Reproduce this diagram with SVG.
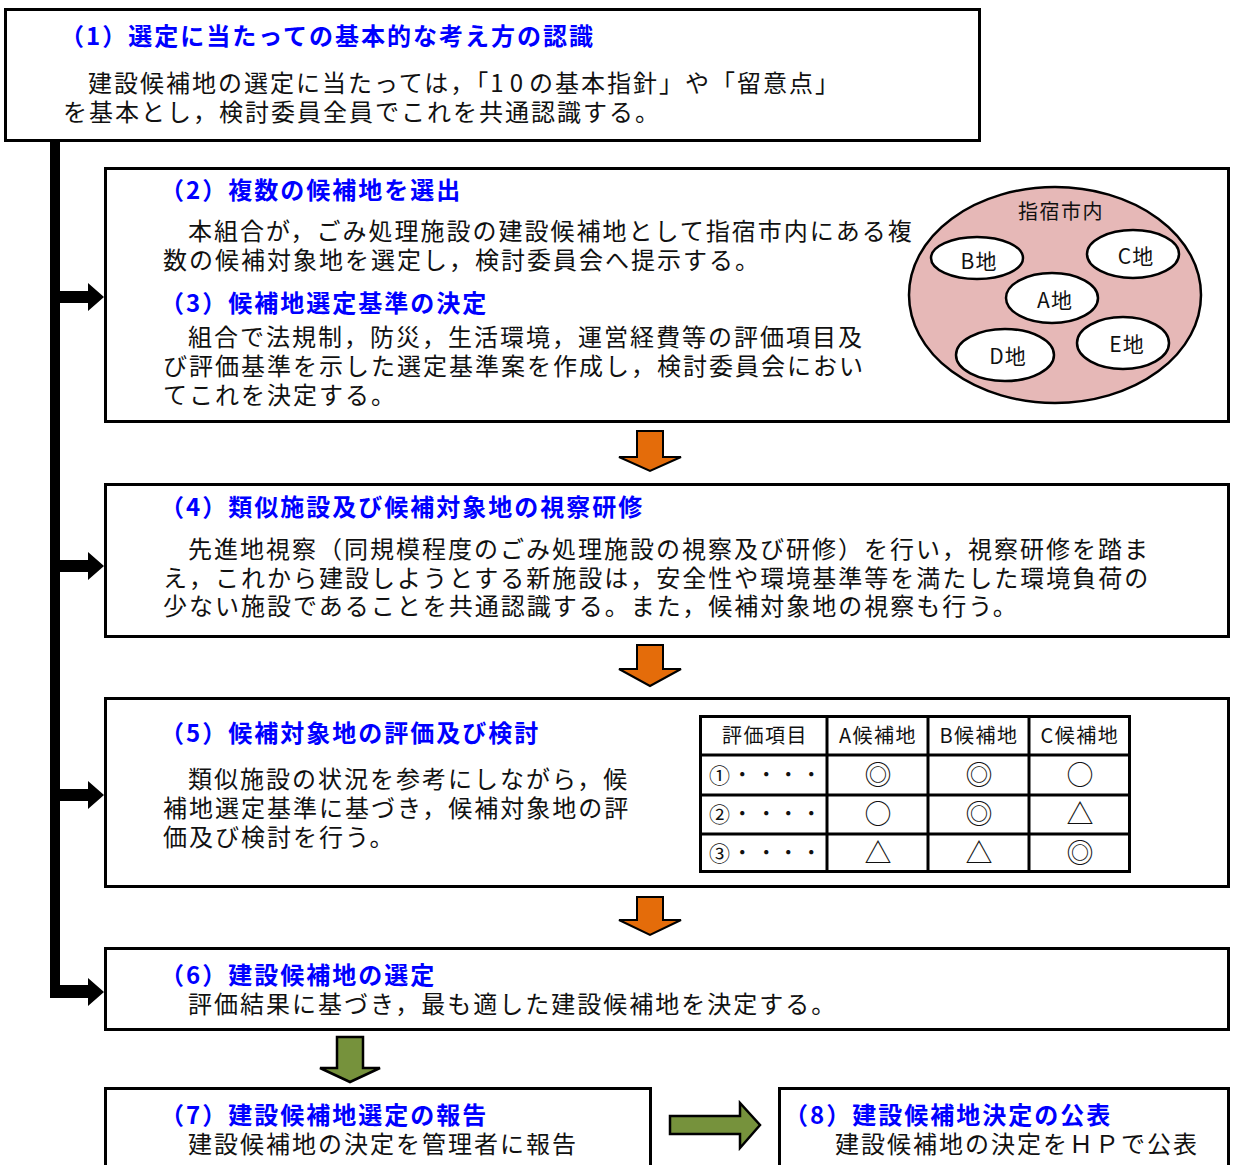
<svg xmlns="http://www.w3.org/2000/svg" width="1235" height="1165" viewBox="0 0 1235 1165">
<style>
.box{fill:#fff;stroke:#000;stroke-width:3}
.t{font-family:"Noto Sans CJK JP","Noto Sans",sans-serif;font-size:24px;font-weight:bold;fill:#0000ff;letter-spacing:2px}
.b{font-family:"Noto Sans CJK JP","Noto Sans",sans-serif;font-size:24px;fill:#111;letter-spacing:2px}
.s{font-family:"Noto Sans CJK JP","Noto Sans",sans-serif;font-size:20px;fill:#111;letter-spacing:1.5px;text-anchor:middle}
.e{font-family:"Noto Sans CJK JP","Noto Sans",sans-serif;font-size:21px;fill:#111;letter-spacing:1px;text-anchor:middle}
.sym{font-family:"Noto Sans CJK JP","DejaVu Sans",sans-serif;font-size:27px;fill:#111;text-anchor:middle}
.ell{fill:#fff;stroke:#000;stroke-width:2.5}
.cell{fill:none;stroke:#000;stroke-width:3}
.or{fill:#e46c0a;stroke:#000;stroke-width:2}
.gr{fill:#76923c;stroke:#000;stroke-width:2.5}
</style>
<rect width="1235" height="1165" fill="#fff"/>

<g id="connectors">
  <rect x="50" y="141" width="10" height="857" fill="#000"/>
  <polygon points="60,291 88,291 88,283 104,297 88,311 88,303 60,303" fill="#000"/>
  <polygon points="60,560 88,560 88,552 104,566 88,580 88,572 60,572" fill="#000"/>
  <polygon points="60,789 88,789 88,781 104,795 88,809 88,801 60,801" fill="#000"/>
  <polygon points="50,985 88,985 88,978 104,992 88,1006 88,998 50,998" fill="#000"/>
  <polygon class="or" points="637,431 663,431 663,457 681,457 650,471 619,457 637,457"/>
  <polygon class="or" points="637,645 663,645 663,669 681,669 650,686 619,669 637,669"/>
  <polygon class="or" points="637,897 663,897 663,920 681,920 650,935 619,920 637,920"/>
  <polygon class="gr" points="337,1037 363,1037 363,1068 380,1068 350,1082 320,1068 337,1068"/>
  <polygon class="gr" points="670,1116 740,1116 740,1103 760,1125 740,1148 740,1134 670,1134"/>
</g>

<g id="node1">
  <rect class="box" x="5.5" y="9.5" width="974" height="131"/>
  <text class="t" x="60" y="45">（1）選定に当たっての基本的な考え方の認識</text>
  <text class="b"><tspan x="88" y="92">建設候補地の選定に当たっては，「<tspan letter-spacing="6px">10</tspan>の基本指針」や「留意点」</tspan><tspan x="63" y="121">を基本とし，検討委員全員でこれを共通認識する。</tspan></text>
</g>

<g id="node2">
  <rect class="box" x="105.5" y="168.5" width="1123" height="253"/>
  <text class="t" x="160" y="199">（2）複数の候補地を選出</text>
  <text class="b"><tspan x="188" y="240">本組合が，ごみ処理施設の建設候補地として指宿市内にある複</tspan><tspan x="163" y="269">数の候補対象地を選定し，検討委員会へ提示する。</tspan></text>
  <text class="t" x="160" y="312">（3）候補地選定基準の決定</text>
  <text class="b"><tspan x="188" y="346">組合で法規制，防災，生活環境，運営経費等の評価項目及</tspan><tspan x="163" y="375">び評価基準を示した選定基準案を作成し，検討委員会におい</tspan><tspan x="163" y="404">てこれを決定する。</tspan></text>
</g>

<g id="city">
  <ellipse cx="1055" cy="295" rx="146" ry="108" fill="#e6b8b7" stroke="#000" stroke-width="2.5"/>
  <text class="s" x="1061" y="219">指宿市内</text>
  <ellipse class="ell" cx="977" cy="258" rx="46" ry="21"/>
  <text class="e" x="979" y="269">B地</text>
  <ellipse class="ell" cx="1133" cy="254" rx="46" ry="24"/>
  <text class="e" x="1136" y="264">C地</text>
  <ellipse class="ell" cx="1052" cy="298" rx="46" ry="25"/>
  <text class="e" x="1055" y="308">A地</text>
  <ellipse class="ell" cx="1005" cy="355" rx="49" ry="26"/>
  <text class="e" x="1008" y="364">D地</text>
  <ellipse class="ell" cx="1123" cy="343" rx="46" ry="26"/>
  <text class="e" x="1127" y="352">E地</text>
</g>

<g id="node4">
  <rect class="box" x="105.5" y="484.5" width="1123" height="152"/>
  <text class="t" x="160" y="516">（4）類似施設及び候補対象地の視察研修</text>
  <text class="b"><tspan x="188" y="558">先進地視察（同規模程度のごみ処理施設の視察及び研修）を行い，視察研修を踏ま</tspan><tspan x="163" y="587">え，これから建設しようとする新施設は，安全性や環境基準等を満たした環境負荷の</tspan><tspan x="163" y="615">少ない施設であることを共通認識する。また，候補対象地の視察も行う。</tspan></text>
</g>

<g id="node5">
  <rect class="box" x="105.5" y="698.5" width="1123" height="188"/>
  <text class="t" x="160" y="742">（5）候補対象地の評価及び検討</text>
  <text class="b"><tspan x="188" y="788">類似施設の状況を参考にしながら，候</tspan><tspan x="163" y="817">補地選定基準に基づき，候補対象地の評</tspan><tspan x="163" y="846">価及び検討を行う。</tspan></text>
</g>

<g id="table">
  <rect class="cell" x="700.5" y="716.5" width="429" height="155"/>
  <line class="cell" x1="700" y1="755" x2="1130" y2="755"/>
  <line class="cell" x1="700" y1="795" x2="1130" y2="795"/>
  <line class="cell" x1="700" y1="834" x2="1130" y2="834"/>
  <line class="cell" x1="827" y1="716" x2="827" y2="872"/>
  <line class="cell" x1="928" y1="716" x2="928" y2="872"/>
  <line class="cell" x1="1029" y1="716" x2="1029" y2="872"/>
  <text class="s" x="765" y="743">評価項目</text>
  <text class="s" x="878" y="743">A候補地</text>
  <text class="s" x="979" y="743">B候補地</text>
  <text class="s" x="1080" y="743">C候補地</text>
  <text class="e" x="720" y="783">①</text>
  <text class="e" x="720" y="822">②</text>
  <text class="e" x="720" y="861">③</text>
  <g class="s">
    <text x="743" y="782">・</text><text x="767" y="782">・</text><text x="789" y="782">・</text><text x="812" y="782">・</text>
    <text x="743" y="821">・</text><text x="767" y="821">・</text><text x="789" y="821">・</text><text x="812" y="821">・</text>
    <text x="743" y="860">・</text><text x="767" y="860">・</text><text x="789" y="860">・</text><text x="812" y="860">・</text>
  </g>
  <text class="sym" x="878" y="785">◎</text>
  <text class="sym" x="979" y="785">◎</text>
  <text class="sym" x="1080" y="785">○</text>
  <text class="sym" x="878" y="824">○</text>
  <text class="sym" x="979" y="824">◎</text>
  <text class="sym" x="1080" y="824">△</text>
  <text class="sym" x="878" y="863">△</text>
  <text class="sym" x="979" y="863">△</text>
  <text class="sym" x="1080" y="863">◎</text>
</g>

<g id="node6">
  <rect class="box" x="105.5" y="948.5" width="1123" height="81"/>
  <text class="t" x="160" y="984">（6）建設候補地の選定</text>
  <text class="b" x="188" y="1013">評価結果に基づき，最も適した建設候補地を決定する。</text>
</g>

<g id="node7">
  <rect class="box" x="105.5" y="1088.5" width="545" height="90"/>
  <text class="t" x="160" y="1124">（7）建設候補地選定の報告</text>
  <text class="b" x="188" y="1153">建設候補地の決定を管理者に報告</text>
</g>

<g id="node8">
  <rect class="box" x="779.5" y="1088.5" width="449" height="90"/>
  <text class="t" x="784" y="1124">（8）建設候補地決定の公表</text>
  <text class="b" x="835" y="1153">建設候補地の決定をＨＰで公表</text>
</g>
</svg>
